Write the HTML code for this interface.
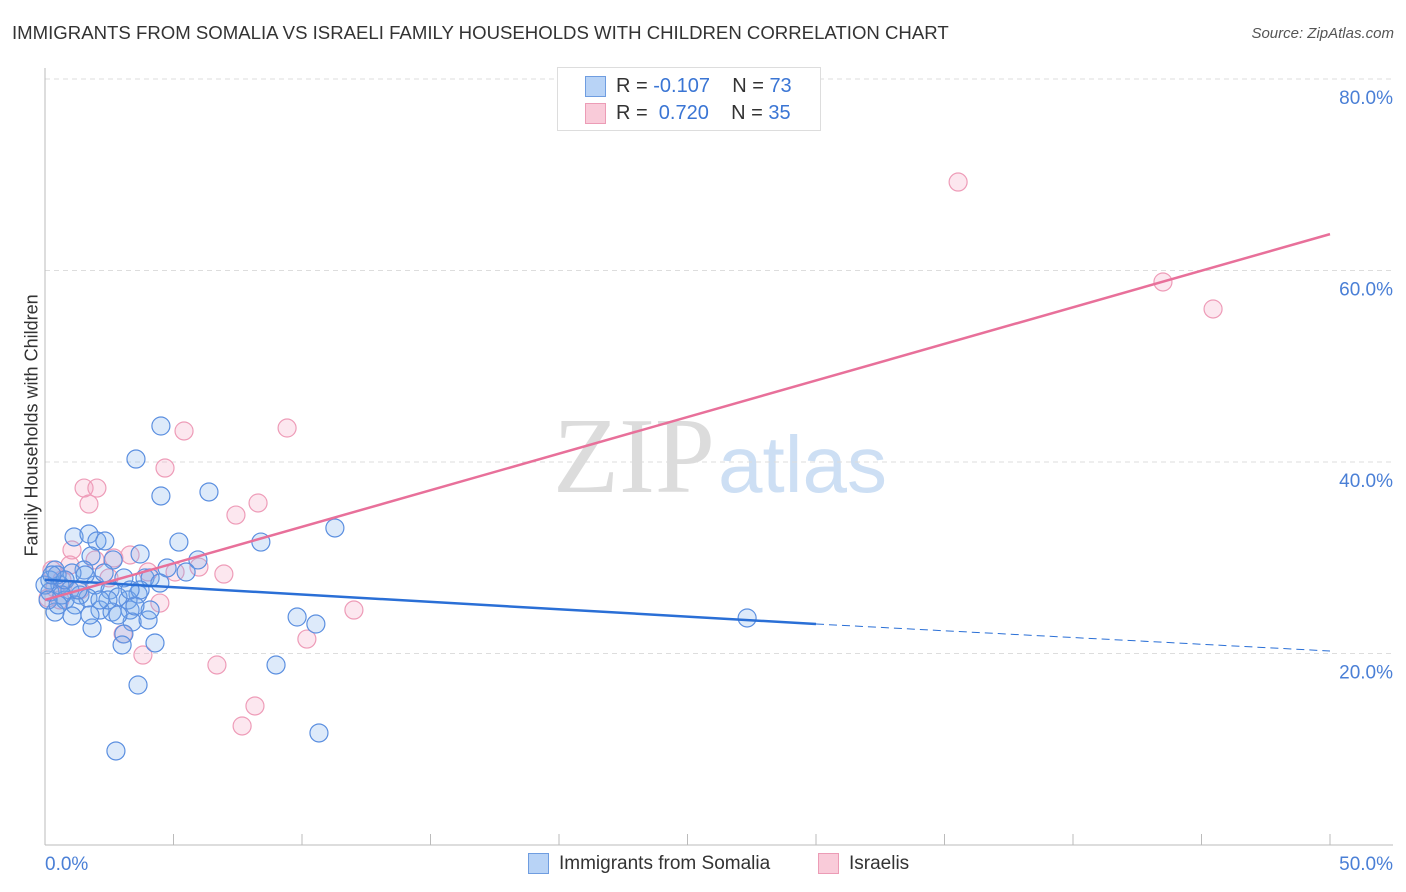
<!DOCTYPE html>
<html><head><meta charset="utf-8"><style>
body{margin:0;background:#fff;font-family:"Liberation Sans",sans-serif;}
#wrap{position:relative;width:1406px;height:892px;overflow:hidden;}
.t{position:absolute;white-space:nowrap;}
</style></head><body>
<div id="wrap">
<div class="t" style="left:12px;top:22px;font-size:18.6px;color:#333;">IMMIGRANTS FROM SOMALIA VS ISRAELI FAMILY HOUSEHOLDS WITH CHILDREN CORRELATION CHART</div>
<div class="t" style="right:12px;top:25px;font-size:15px;color:#555;font-style:italic;">Source: ZipAtlas.com</div>
<div class="t" style="left:-68px;top:446px;font-size:18px;color:#333;transform:rotate(-90deg);width:200px;text-align:center;">Family Households with Children</div>
<svg id="svg" width="1406" height="892" style="position:absolute;left:0;top:0">
<text x="553" y="492" font-family="Liberation Serif" font-size="108" fill="#dcdcdc">ZIP</text>
<text x="718" y="492" font-family="Liberation Sans" font-size="80" fill="#cddff4">atlas</text>
</svg>
<div style="position:absolute;left:557px;top:67px;width:262px;height:62px;border:1px solid #ddd;background:#fff;">
<div style="position:absolute;left:27px;top:8px;width:19px;height:19px;background:#b8d3f6;border:1px solid #6f9de0;"></div>
<div class="t" style="left:58px;top:7px;font-size:20px;color:#333;">R = <span style="color:#3a75d4">-0.107</span>&nbsp;&nbsp;&nbsp;&nbsp;N = <span style="color:#3a75d4">73</span></div>
<div style="position:absolute;left:27px;top:35px;width:19px;height:19px;background:#f9cbd9;border:1px solid #ec9cb6;"></div>
<div class="t" style="left:58px;top:34px;font-size:20px;color:#333;">R = &nbsp;<span style="color:#3a75d4">0.720</span>&nbsp;&nbsp;&nbsp;&nbsp;N = <span style="color:#3a75d4">35</span></div>
</div>
<div style="position:absolute;left:528px;top:853px;width:19px;height:19px;background:#b8d3f6;border:1px solid #6f9de0;"></div>
<div class="t" style="left:559px;top:853px;font-size:19px;color:#333;">Immigrants from Somalia</div>
<div style="position:absolute;left:818px;top:853px;width:19px;height:19px;background:#f9cbd9;border:1px solid #ec9cb6;"></div>
<div class="t" style="left:849px;top:853px;font-size:19px;color:#333;">Israelis</div>
</div>
<script>
const blueX=[4.51,3.54,4.51,6.38,11.28,8.40,5.21,1.13,1.71,2.02,2.33,3.70,5.95,1.79,2.65,5.49,4.75,3.89,4.09,3.07,1.52,1.05,0.39,0.19,0.58,0.97,1.95,2.53,3.62,3.23,2.84,1.36,1.67,0.78,1.17,2.14,2.61,3.31,0.39,1.05,3.39,4.01,1.83,3.07,3.00,4.28,9.81,10.54,8.99,3.62,2.76,10.66,27.32,0.19,0.47,0.66,0.0,2.45,2.14,4.09,1.56,0.78,3.50,2.30,4.47,0.12,0.27,1.28,1.75,3.70,2.84,3.31,0.51];
const blueY=[43.76,40.31,36.45,36.87,33.11,31.64,31.64,32.17,32.48,31.75,31.75,30.39,29.77,30.18,29.77,28.51,28.93,27.89,27.89,27.89,28.72,28.41,28.72,27.68,27.15,26.63,27.15,26.63,26.21,25.59,25.90,26.11,25.80,25.59,25.07,24.54,24.33,24.54,24.33,23.92,23.29,23.50,22.66,22.04,20.89,21.10,23.81,23.08,18.80,16.71,9.82,11.70,23.71,26.42,28.20,26.11,27.15,25.59,25.59,24.54,28.20,27.68,24.96,28.41,27.36,25.59,28.20,26.63,24.02,26.63,24.02,26.63,25.07];
const pinkX=[35.53,43.50,45.45,9.42,5.41,4.67,1.52,2.02,1.71,8.29,7.43,1.05,2.68,5.99,5.06,6.96,4.01,2.49,4.47,12.02,10.19,3.04,3.81,6.69,8.17,7.67,0.12,0.39,0.66,0.27,0.97,3.31,0.58,1.36,1.95];
const pinkY=[69.24,58.80,55.98,43.55,43.24,39.37,37.28,37.28,35.61,35.72,34.46,30.81,29.97,29.03,28.51,28.30,28.51,27.89,25.27,24.54,21.51,22.04,19.84,18.80,14.52,12.43,25.80,26.84,27.68,28.72,29.24,30.29,25.59,26.63,29.77];
const blueTrend=[27.7,23.08,20.26]; // y at x=0, x=30 (solid end), x=50
const pinkTrend=[25.59,63.8]; // y at x=0, x=50
const yTicks=[20,40,60,80];
const yTickLabels=["20.0%","40.0%","60.0%","80.0%"];
const xTickVals=[0,5,10,15,20,25,30,35,40,45,50];

const X0=45,X1=1330,Y0=845,PPY=9.575;
const sx=v=>X0+(v/50)*(X1-X0);
const sy=v=>Y0-v*PPY;
const svg=document.getElementById('svg');
const NS='http://www.w3.org/2000/svg';
function mk(tag,attrs){const e=document.createElementNS(NS,tag);for(const k in attrs)e.setAttribute(k,attrs[k]);svg.appendChild(e);return e;}
yTicks.forEach((v,i)=>{
  const g=mk('line',{x1:X0,x2:1393,y1:sy(v),y2:sy(v),stroke:'#ddd','stroke-dasharray':'5,4'});
  
  
  const t=mk('text',{x:1393,y:sy(v)+25,'text-anchor':'end','font-size':19,fill:'#4a7fd6','font-family':'Liberation Sans'});
  t.textContent=yTickLabels[i];
  
  
});
let ax=mk('line',{x1:X0,x2:X0,y1:68,y2:Y0,stroke:'#bbb'});


ax=mk('line',{x1:X0,x2:1393,y1:Y0,y2:Y0,stroke:'#bbb'});


xTickVals.forEach(v=>{
  const l=mk('line',{x1:sx(v),x2:sx(v),y1:Y0-11,y2:Y0,stroke:'#bbb'});
  
  
});
[[0,'0.0%','start',45],[50,'50.0%','end',1393]].forEach(a=>{
  const t=mk('text',{x:a[3],y:870,'text-anchor':a[2],'font-size':19,fill:'#4a7fd6','font-family':'Liberation Sans'});
  t.textContent=a[1];
  
  
});
function dots(xs,ys,fill,stroke,name){xs.forEach((x,i)=>{
  const c=mk('circle',{cx:sx(x),cy:sy(ys[i]),r:9,fill:fill,stroke:stroke,'stroke-width':1.2});
  
  
});}
dots(pinkX,pinkY,'rgba(245,160,190,0.25)','#ee9cb8','point-israelis');
dots(blueX,blueY,'rgba(120,170,235,0.25)','#5b8fe0','point-somalia');
let l=mk('line',{x1:sx(0),y1:sy(blueTrend[0]),x2:sx(30),y2:sy(blueTrend[1]),stroke:'#2a6fd6','stroke-width':2.5});


l=mk('line',{x1:sx(30),y1:sy(blueTrend[1]),x2:sx(50),y2:sy(blueTrend[2]),stroke:'#2a6fd6','stroke-width':1,'stroke-dasharray':'8,5'});


l=mk('line',{x1:sx(0),y1:sy(pinkTrend[0]),x2:sx(50),y2:sy(pinkTrend[1]),stroke:'#e8709a','stroke-width':2.5});


</script>
</body></html>
